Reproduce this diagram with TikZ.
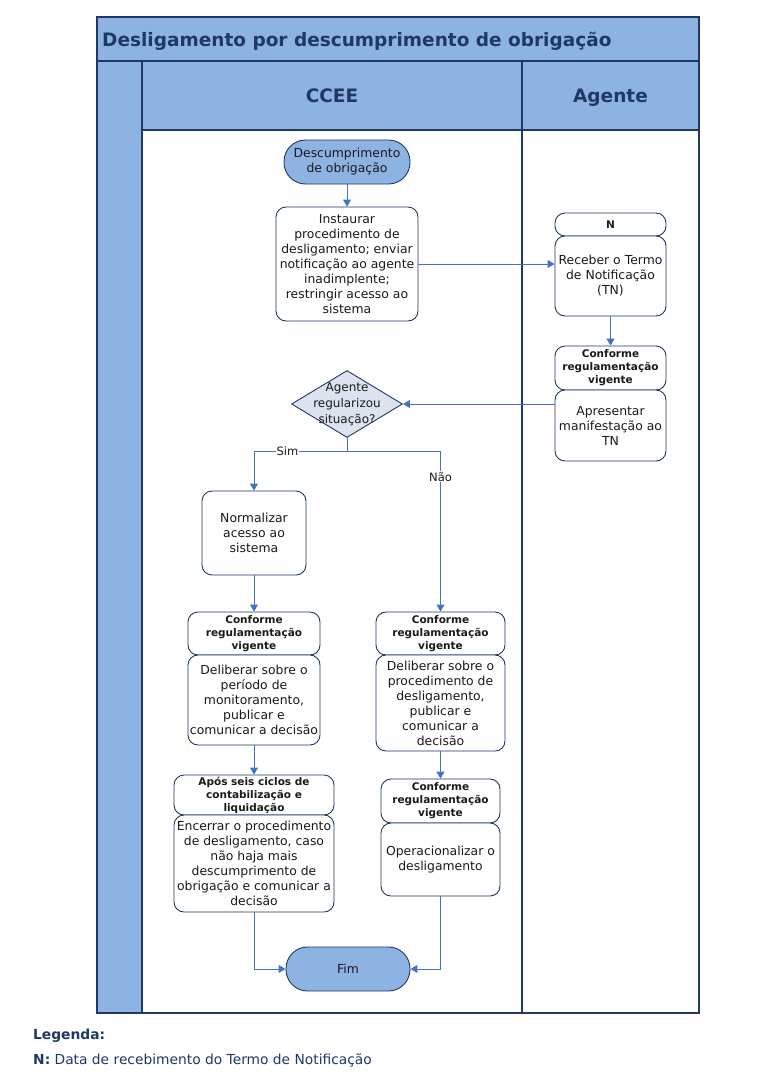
\documentclass[tikz,border=0pt]{standalone}
\usepackage{fontspec}
\setmainfont{DejaVu Sans}
\usetikzlibrary{arrows.meta,shapes.geometric}
\definecolor{laneblue}{HTML}{8DB3E2}
\definecolor{navy}{HTML}{1F3864}
\definecolor{connc}{HTML}{4472C4}
\definecolor{dfill}{HTML}{DCE3EE}
\definecolor{txt}{HTML}{1A1A1A}
\tikzset{
  frame/.style={draw=navy, line width=1.3pt},
  box/.style={draw=navy, line width=0.9pt, rounded corners=10pt, fill=white, align=center,
    inner sep=0pt, text=txt, font=\fontsize{12.4}{15}\selectfont},
  hdr/.style={box, font=\bfseries\fontsize{10.5}{13}\selectfont},
  term/.style={draw=navy, line width=0.9pt, fill=laneblue, rounded corners=21.5pt, align=center,
    inner sep=0pt, text=txt, font=\fontsize{12.4}{15}\selectfont},
  dia/.style={diamond, draw=navy, line width=0.9pt, fill=dfill, inner sep=0pt},
  dtext/.style={align=center, inner sep=0pt, text=txt, font=\fontsize{12}{16}\selectfont},
  flow/.style={draw=connc, line width=1pt},
  arrowline/.style={flow, -{Triangle[width=8pt,length=7pt]}},
  lbl/.style={fill=white, inner sep=1pt, text=txt, font=\fontsize{11.5}{13}\selectfont},
  lanetitle/.style={text=navy, inner sep=0pt, font=\bfseries\fontsize{18.5}{22}\selectfont},
  legtext/.style={anchor=west, inner sep=0pt, text=navy, font=\fontsize{13.8}{16}\selectfont}
}
\begin{document}
\begin{tikzpicture}[x=1pt,y=-1pt]
\useasboundingbox (0,0) rectangle (759,1080);
% pool
\fill[white] (0,0) rectangle (759,1080);
\fill[laneblue] (97,17) rectangle (699,130);
\fill[laneblue] (97,130) rectangle (142,1013);
\draw[frame] (97,17) rectangle (699,1013);
\draw[navy, line width=2pt] (97,61) -- (699,61);
\draw[frame] (142,61) -- (142,1013);
\draw[frame] (522,61) -- (522,1013);
\draw[frame] (142,130) -- (699,130);
\node[lanetitle, anchor=base west] (title) at (102,46) {Desligamento por descumprimento de obrigação};
\node[lanetitle, anchor=base] (ccee) at (332,102) {CCEE};
\node[lanetitle, anchor=base] (agente) at (610.5,102) {Agente};

% nodes
\node[term, minimum width=126pt, minimum height=44pt] (start) at (347,162) {Descumprimento\\de obrigação};
\node[box, minimum width=142pt, minimum height=114pt] (inst) at (347,264) {Instaurar\\procedimento de\\desligamento; enviar\\notificação ao agente\\inadimplente;\\restringir acesso ao\\sistema};
\node[hdr, minimum width=111pt, minimum height=23pt] (nhdr) at (610.5,224.5) {N};
\node[box, minimum width=111pt, minimum height=80pt] (recv) at (610.5,276) {Receber o Termo\\de Notificação\\(TN)};
\node[hdr, minimum width=111pt, minimum height=44pt] (cf1) at (610.5,368) {Conforme\\regulamentação\\vigente};
\node[box, minimum width=111pt, minimum height=71pt] (apr) at (610.5,425.5) {Apresentar\\manifestação ao\\TN};
\node[dia, minimum width=111pt, minimum height=67pt] (dec) at (347,404) {};
\node[dtext] (dectext) at (dec.center) {Agente\\regularizou\\situação?};
\node[box, minimum width=104pt, minimum height=84pt] (norm) at (254,533) {Normalizar\\acesso ao\\sistema};
\node[hdr, minimum width=132pt, minimum height=43pt] (cf2) at (254,633.5) {Conforme\\regulamentação\\vigente};
\node[box, minimum width=132pt, minimum height=90pt] (del1) at (254,700) {Deliberar sobre o\\período de\\monitoramento,\\publicar e\\comunicar a decisão};
\node[hdr, minimum width=160pt, minimum height=40pt] (apos) at (254,795) {Após seis ciclos de\\contabilização e\\liquidação};
\node[box, minimum width=160pt, minimum height=97pt] (enc) at (254,863.5) {Encerrar o procedimento\\de desligamento, caso\\não haja mais\\descumprimento de\\obrigação e comunicar a\\decisão};
\node[hdr, minimum width=129pt, minimum height=43pt] (cf3) at (440.5,633.5) {Conforme\\regulamentação\\vigente};
\node[box, minimum width=129pt, minimum height=96pt] (del2) at (440.5,703) {Deliberar sobre o\\procedimento de\\desligamento,\\publicar e\\comunicar a\\decisão};
\node[hdr, minimum width=119pt, minimum height=44pt] (cf4) at (440.5,801) {Conforme\\regulamentação\\vigente};
\node[box, minimum width=119pt, minimum height=73pt] (oper) at (440.5,859.5) {Operacionalizar o\\desligamento};
\node[term, minimum width=124pt, minimum height=44pt] (fim) at (348,969) {Fim};

% connectors
\draw[arrowline] (start.south) -- (inst.north);
\draw[arrowline] (inst.east) -- (inst.east -| recv.west);
\draw[arrowline] (recv.south) -- (cf1.north);
\draw[arrowline] (dec.east -| apr.west) -- (dec.east);
\coordinate (split) at (347,451);
\draw[flow] (dec.south) -- (split);
\draw[arrowline] (split) -| (norm.north) node[lbl, pos=0.32] {Sim};
\draw[arrowline] (split) -| (cf3.north) node[lbl, pos=0.58] {Não};
\draw[arrowline] (norm.south) -- (cf2.north);
\draw[arrowline] (del1.south) -- (apos.north);
\draw[arrowline] (del2.south) -- (cf4.north);
\draw[arrowline] (enc.south) |- (fim.west);
\draw[arrowline] (oper.south) |- (fim.east);

% legend
\node[legtext, font=\bfseries\fontsize{13.8}{16}\selectfont] (leg) at (33,1036) {Legenda:};
\node[legtext] (legn) at (33,1060) {\textbf{N:} Data de recebimento do Termo de Notificação};
\end{tikzpicture}
\end{document}
